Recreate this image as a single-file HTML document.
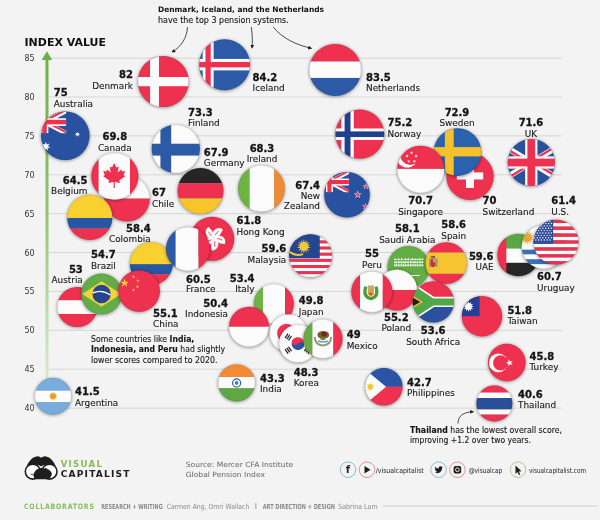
<!DOCTYPE html><html><head><meta charset="utf-8"><style>
html,body{margin:0;padding:0;}body{width:600px;height:520px;overflow:hidden;background:#f3f3f3;}
svg{display:block;will-change:transform;}
.n{font-family:"DejaVu Sans",sans-serif;font-weight:bold;font-size:10.00px;fill:#141414;stroke:#141414;stroke-width:0.3px;}
.l{font-family:"DejaVu Sans",sans-serif;font-size:8.90px;fill:#181818;stroke:#181818;stroke-width:0.12px;}
.ax{font-family:"DejaVu Sans",sans-serif;font-size:8px;fill:#333;}
.t{font-family:"DejaVu Sans",sans-serif;font-size:8.3px;fill:#161616;stroke:#161616;stroke-width:0.12px;}
</style></head><body>
<svg width="600" height="520" viewBox="0 0 600 520">
<defs><filter id="sh" x="-30%" y="-30%" width="160%" height="160%"><feGaussianBlur stdDeviation="1.4"/></filter>
<marker id="ah" viewBox="0 0 6 6" refX="5" refY="3" markerWidth="5" markerHeight="5" orient="auto-start-reverse"><path d="M0,0 L6,3 L0,6 Z" fill="#222"/></marker>
<clipPath id="cdk"><circle r="25.5"/></clipPath>
<clipPath id="cis"><circle r="25.5"/></clipPath>
<clipPath id="cnl"><circle r="26"/></clipPath>
<clipPath id="cau"><circle r="24.3"/></clipPath>
<clipPath id="cfi"><circle r="24.2"/></clipPath>
<clipPath id="cno"><circle r="24.5"/></clipPath>
<clipPath id="cch"><circle r="23.6"/></clipPath>
<clipPath id="cse"><circle r="23.8"/></clipPath>
<clipPath id="csg"><circle r="23.6"/></clipPath>
<clipPath id="cuk"><circle r="23.6"/></clipPath>
<clipPath id="ccl"><circle r="22.8"/></clipPath>
<clipPath id="cco1"><circle r="22.6"/></clipPath>
<clipPath id="cca"><circle r="23.5"/></clipPath>
<clipPath id="cde"><circle r="23"/></clipPath>
<clipPath id="cie"><circle r="23.3"/></clipPath>
<clipPath id="cnz"><circle r="22.8"/></clipPath>
<clipPath id="chk"><circle r="22"/></clipPath>
<clipPath id="cco2"><circle r="21.5"/></clipPath>
<clipPath id="cfr"><circle r="22"/></clipPath>
<clipPath id="cmy"><circle r="21.5"/></clipPath>
<clipPath id="cae"><circle r="21.2"/></clipPath>
<clipPath id="cuy"><circle r="22"/></clipPath>
<clipPath id="cus"><circle r="22.5"/></clipPath>
<clipPath id="csa"><circle r="21"/></clipPath>
<clipPath id="ces"><circle r="20.8"/></clipPath>
<clipPath id="cpl"><circle r="20.5"/></clipPath>
<clipPath id="cpe"><circle r="20.6"/></clipPath>
<clipPath id="cza"><circle r="20.6"/></clipPath>
<clipPath id="cat"><circle r="20"/></clipPath>
<clipPath id="cbr"><circle r="20.4"/></clipPath>
<clipPath id="ccn"><circle r="20.8"/></clipPath>
<clipPath id="cit"><circle r="20"/></clipPath>
<clipPath id="cid"><circle r="20"/></clipPath>
<clipPath id="cjp"><circle r="19"/></clipPath>
<clipPath id="ckr"><circle r="19"/></clipPath>
<clipPath id="cmx"><circle r="19.6"/></clipPath>
<clipPath id="ctw"><circle r="20.2"/></clipPath>
<clipPath id="ctr"><circle r="18.8"/></clipPath>
<clipPath id="cin"><circle r="18.5"/></clipPath>
<clipPath id="cph"><circle r="18.8"/></clipPath>
<clipPath id="cth"><circle r="18"/></clipPath>
<clipPath id="car"><circle r="18.3"/></clipPath>
</defs>
<line x1="48" y1="58.1" x2="562" y2="58.1" stroke="#d6d6d4" stroke-width="1"/>
<text class="ax" x="24.5" y="61.1">85</text>
<line x1="48" y1="96.99" x2="562" y2="96.99" stroke="#d6d6d4" stroke-width="1"/>
<text class="ax" x="24.5" y="99.99">80</text>
<line x1="48" y1="135.88" x2="562" y2="135.88" stroke="#d6d6d4" stroke-width="1"/>
<text class="ax" x="24.5" y="138.88">75</text>
<line x1="48" y1="174.77" x2="562" y2="174.77" stroke="#d6d6d4" stroke-width="1"/>
<text class="ax" x="24.5" y="177.77">70</text>
<line x1="48" y1="213.66" x2="562" y2="213.66" stroke="#d6d6d4" stroke-width="1"/>
<text class="ax" x="24.5" y="216.66">65</text>
<line x1="48" y1="252.55" x2="562" y2="252.55" stroke="#d6d6d4" stroke-width="1"/>
<text class="ax" x="24.5" y="255.55">60</text>
<line x1="48" y1="291.44" x2="562" y2="291.44" stroke="#d6d6d4" stroke-width="1"/>
<text class="ax" x="24.5" y="294.44">55</text>
<line x1="48" y1="330.33" x2="562" y2="330.33" stroke="#d6d6d4" stroke-width="1"/>
<text class="ax" x="24.5" y="333.33">50</text>
<line x1="48" y1="369.22" x2="562" y2="369.22" stroke="#d6d6d4" stroke-width="1"/>
<text class="ax" x="24.5" y="372.22">45</text>
<line x1="48" y1="408.11" x2="562" y2="408.11" stroke="#d6d6d4" stroke-width="1"/>
<text class="ax" x="24.5" y="411.11">40</text>
<linearGradient id="axg" x1="0" y1="0" x2="0" y2="1"><stop offset="0" stop-color="#6cb043"/><stop offset="0.45" stop-color="#8fc46e"/><stop offset="1" stop-color="#dfecd5"/></linearGradient>
<rect x="45.5" y="58" width="3" height="334" fill="url(#axg)"/>
<polygon points="46.9,51.2 52.2,59.9 41.6,59.9" fill="#6cb043"/>
<text x="24.5" y="45.6" textLength="81.5" lengthAdjust="spacingAndGlyphs" style="font-family:'DejaVu Sans',sans-serif;font-weight:bold;font-size:9.6px;fill:#111">INDEX VALUE</text>
<text x="158" y="12" textLength="166" lengthAdjust="spacingAndGlyphs" style="font-family:'DejaVu Sans',sans-serif;font-weight:bold;font-size:7.6px;fill:#111">Denmark, Iceland, and the Netherlands</text>
<text x="158" y="22.5" class="t" textLength="130.7" lengthAdjust="spacingAndGlyphs">have the top 3 pension systems.</text>
<path d="M187.5,27 C187,38 181,47 172,52" stroke="#222" stroke-width="0.8" fill="none" marker-end="url(#ah)"/>
<path d="M251.3,27 C252.5,35 252.5,42 252,48" stroke="#222" stroke-width="0.8" fill="none" marker-end="url(#ah)"/>
<path d="M273.3,27 C282,38 296,45 311.5,48.3" stroke="#222" stroke-width="0.8" fill="none" marker-end="url(#ah)"/>
<g transform="translate(163.3,81.6)">
<circle cx="0" cy="0.6" r="26" fill="rgba(0,0,0,0.36)" filter="url(#sh)"/>
<g clip-path="url(#cdk)"><rect x="-30.6" y="-30.6" width="61.2" height="61.2" fill="#ef3150"/><rect x="-13.26" y="-30.6" width="8.92" height="61.2" fill="#fbfbfb"/><rect x="-30.6" y="-4.59" width="61.2" height="9.18" fill="#fbfbfb"/></g>
<circle r="25.2" fill="none" stroke="rgba(0,0,0,0.12)" stroke-width="0.6"/>
</g>
<g transform="translate(224.6,64.8)">
<circle cx="0" cy="0.6" r="26" fill="rgba(0,0,0,0.36)" filter="url(#sh)"/>
<g clip-path="url(#cis)"><rect x="-30.6" y="-30.6" width="61.2" height="61.2" fill="#2c5aa6"/><rect x="-21.93" y="-30.6" width="10.96" height="61.2" fill="#fbfbfb"/><rect x="-30.6" y="-5.87" width="61.2" height="11.47" fill="#fbfbfb"/><rect x="-19.12" y="-30.6" width="5.23" height="61.2" fill="#ef3150"/><rect x="-30.6" y="-2.81" width="61.2" height="5.36" fill="#ef3150"/></g>
<circle r="25.2" fill="none" stroke="rgba(0,0,0,0.12)" stroke-width="0.6"/>
</g>
<g transform="translate(335.2,69.9)">
<circle cx="0" cy="0.6" r="26.5" fill="rgba(0,0,0,0.36)" filter="url(#sh)"/>
<g clip-path="url(#cnl)"><rect x="-31.2" y="-31.2" width="62.4" height="22.88" fill="#ef3150"/><rect x="-31.2" y="-8.32" width="62.4" height="16.38" fill="#fbfbfb"/><rect x="-31.2" y="8.06" width="62.4" height="23.14" fill="#2c5aa6"/></g>
<circle r="25.7" fill="none" stroke="rgba(0,0,0,0.12)" stroke-width="0.6"/>
</g>
<g transform="translate(65.3,135.8)">
<circle cx="0" cy="0.6" r="24.8" fill="rgba(0,0,0,0.36)" filter="url(#sh)"/>
<g clip-path="url(#cau)"><rect x="-29.16" y="-29.16" width="58.32" height="58.32" fill="#28519f"/><rect x="-42.52" y="-25.03" width="43.5" height="22.6" fill="#28519f"/><clipPath id="uj-4252_-2502_434"><rect x="-42.52" y="-25.03" width="43.5" height="22.6"/></clipPath><g clip-path="url(#uj-4252_-2502_434)"><line x1="-42.52" y1="-25.03" x2="0.97" y2="-2.43" stroke="#fbfbfb" stroke-width="4.52"/><line x1="-42.52" y1="-2.43" x2="0.97" y2="-25.03" stroke="#fbfbfb" stroke-width="4.52"/><line x1="-42.52" y1="-24.01" x2="-20.78" y2="-12.71" stroke="#ef3150" stroke-width="2.03"/><line x1="-20.78" y1="-14.75" x2="0.97" y2="-3.45" stroke="#ef3150" stroke-width="2.03"/><line x1="-42.52" y1="-1.41" x2="-20.78" y2="-12.71" stroke="#ef3150" stroke-width="2.03"/><line x1="-20.78" y1="-14.75" x2="0.97" y2="-26.05" stroke="#ef3150" stroke-width="2.03"/><rect x="-24.62" y="-25.03" width="7.68" height="22.6" fill="#fbfbfb"/><rect x="-42.52" y="-17.57" width="43.5" height="7.68" fill="#fbfbfb"/><rect x="-23.04" y="-25.03" width="4.52" height="22.6" fill="#ef3150"/><rect x="-42.52" y="-15.99" width="43.5" height="4.52" fill="#ef3150"/></g><polygon points="-19.44,5.83 -18.49,8.72 -15.64,7.66 -17.31,10.21 -14.7,11.77 -17.73,12.06 -17.33,15.07 -19.44,12.88 -21.55,15.07 -21.15,12.06 -24.18,11.77 -21.57,10.21 -23.24,7.66 -20.39,8.72" fill="#fbfbfb"/><polygon points="12.15,-4.13 12.67,-2.54 14.24,-3.12 13.32,-1.73 14.76,-0.86 13.09,-0.71 13.31,0.95 12.15,-0.26 10.99,0.95 11.21,-0.71 9.54,-0.86 10.98,-1.73 10.06,-3.12 11.63,-2.54" fill="#fbfbfb"/></g>
<circle r="24" fill="none" stroke="rgba(0,0,0,0.12)" stroke-width="0.6"/>
</g>
<g transform="translate(175.8,148.8)">
<circle cx="0" cy="0.6" r="24.7" fill="rgba(0,0,0,0.36)" filter="url(#sh)"/>
<g clip-path="url(#cfi)"><rect x="-29.04" y="-29.04" width="58.08" height="58.08" fill="#fbfbfb"/><rect x="-15.37" y="-29.04" width="10.77" height="58.08" fill="#2c5aa6"/><rect x="-29.04" y="-5.08" width="58.08" height="11.86" fill="#2c5aa6"/></g>
<circle r="23.9" fill="none" stroke="rgba(0,0,0,0.12)" stroke-width="0.6"/>
</g>
<g transform="translate(359.8,134.1)">
<circle cx="0" cy="0.6" r="25" fill="rgba(0,0,0,0.36)" filter="url(#sh)"/>
<g clip-path="url(#cno)"><rect x="-29.4" y="-29.4" width="58.8" height="58.8" fill="#ef3150"/><rect x="-18.5" y="-29.4" width="12.5" height="58.8" fill="#fbfbfb"/><rect x="-29.4" y="-5.64" width="58.8" height="11.51" fill="#fbfbfb"/><rect x="-15.19" y="-29.4" width="5.88" height="58.8" fill="#203f8c"/><rect x="-29.4" y="-2.69" width="58.8" height="5.63" fill="#203f8c"/></g>
<circle r="24.2" fill="none" stroke="rgba(0,0,0,0.12)" stroke-width="0.6"/>
</g>
<g transform="translate(470,176.4)">
<circle cx="0" cy="0.6" r="24.1" fill="rgba(0,0,0,0.36)" filter="url(#sh)"/>
<g clip-path="url(#cch)"><rect x="-28.32" y="-28.32" width="56.64" height="56.64" fill="#ef3150"/><rect x="-13.22" y="-4.01" width="26.43" height="7.08" fill="#fbfbfb"/><rect x="-4.01" y="-11.56" width="8.02" height="23.13" fill="#fbfbfb"/></g>
<circle r="23.3" fill="none" stroke="rgba(0,0,0,0.12)" stroke-width="0.6"/>
</g>
<g transform="translate(457.5,152.1)">
<circle cx="0" cy="0.6" r="24.3" fill="rgba(0,0,0,0.36)" filter="url(#sh)"/>
<g clip-path="url(#cse)"><rect x="-28.56" y="-28.56" width="57.12" height="57.12" fill="#2a62ad"/><rect x="-12.61" y="-28.56" width="8.81" height="57.12" fill="#f5c22c"/><rect x="-28.56" y="-5" width="57.12" height="9.28" fill="#f5c22c"/></g>
<circle r="23.5" fill="none" stroke="rgba(0,0,0,0.12)" stroke-width="0.6"/>
</g>
<g transform="translate(420.8,169.4)">
<circle cx="0" cy="0.6" r="24.1" fill="rgba(0,0,0,0.36)" filter="url(#sh)"/>
<g clip-path="url(#csg)"><rect x="-28.32" y="-28.32" width="56.64" height="27.85" fill="#ef3150"/><rect x="-28.32" y="-0.47" width="56.64" height="28.79" fill="#fbfbfb"/><circle cx="-13.69" cy="-12.51" r="10.62" fill="#fbfbfb" /><circle cx="-10.38" cy="-14.63" r="10.15" fill="#ef3150" /><polygon points="-9.2,-18.29 -8.81,-17.07 -7.52,-17.07 -8.56,-16.31 -8.16,-15.09 -9.2,-15.84 -10.24,-15.09 -9.85,-16.31 -10.89,-17.07 -9.6,-17.07" fill="#fbfbfb"/><polygon points="-4.72,-15.03 -4.32,-13.81 -3.03,-13.81 -4.07,-13.05 -3.67,-11.83 -4.72,-12.58 -5.76,-11.83 -5.36,-13.05 -6.4,-13.81 -5.11,-13.81" fill="#fbfbfb"/><polygon points="-6.43,-9.75 -6.03,-8.53 -4.75,-8.53 -5.79,-7.77 -5.39,-6.55 -6.43,-7.31 -7.47,-6.55 -7.07,-7.77 -8.11,-8.53 -6.83,-8.53" fill="#fbfbfb"/><polygon points="-11.98,-9.75 -11.58,-8.53 -10.29,-8.53 -11.34,-7.77 -10.94,-6.55 -11.98,-7.31 -13.02,-6.55 -12.62,-7.77 -13.66,-8.53 -12.38,-8.53" fill="#fbfbfb"/><polygon points="-13.69,-15.03 -13.3,-13.81 -12.01,-13.81 -13.05,-13.05 -12.65,-11.83 -13.69,-12.58 -14.73,-11.83 -14.34,-13.05 -15.38,-13.81 -14.09,-13.81" fill="#fbfbfb"/></g>
<circle r="23.3" fill="none" stroke="rgba(0,0,0,0.12)" stroke-width="0.6"/>
</g>
<g transform="translate(531.3,162.5)">
<circle cx="0" cy="0.6" r="24.1" fill="rgba(0,0,0,0.36)" filter="url(#sh)"/>
<g clip-path="url(#cuk)"><rect x="-38.94" y="-23.6" width="77.88" height="47.2" fill="#28519f"/><clipPath id="uj-3894_-2360_778"><rect x="-38.94" y="-23.6" width="77.88" height="47.2"/></clipPath><g clip-path="url(#uj-3894_-2360_778)"><line x1="-38.94" y1="-23.6" x2="38.94" y2="23.6" stroke="#fbfbfb" stroke-width="5.66"/><line x1="-38.94" y1="23.6" x2="38.94" y2="-23.6" stroke="#fbfbfb" stroke-width="5.66"/><line x1="-38.94" y1="-22.42" x2="0" y2="1.18" stroke="#ef3150" stroke-width="2.36"/><line x1="0" y1="-1.18" x2="38.94" y2="22.42" stroke="#ef3150" stroke-width="2.36"/><line x1="-38.94" y1="24.78" x2="0" y2="1.18" stroke="#ef3150" stroke-width="2.36"/><line x1="0" y1="-1.18" x2="38.94" y2="-24.78" stroke="#ef3150" stroke-width="2.36"/><rect x="-6.14" y="-23.6" width="12.27" height="47.2" fill="#fbfbfb"/><rect x="-38.94" y="-6.14" width="77.88" height="12.27" fill="#fbfbfb"/><rect x="-3.89" y="-23.6" width="7.79" height="47.2" fill="#ef3150"/><rect x="-38.94" y="-3.89" width="77.88" height="7.79" fill="#ef3150"/></g></g>
<circle r="23.3" fill="none" stroke="rgba(0,0,0,0.12)" stroke-width="0.6"/>
</g>
<g transform="translate(127,198.6)">
<circle cx="0" cy="0.6" r="23.3" fill="rgba(0,0,0,0.36)" filter="url(#sh)"/>
<g clip-path="url(#ccl)"><rect x="-27.36" y="-27.36" width="54.72" height="27.36" fill="#fbfbfb"/><rect x="-27.36" y="0" width="54.72" height="27.36" fill="#ef3150"/></g>
<circle r="22.5" fill="none" stroke="rgba(0,0,0,0.12)" stroke-width="0.6"/>
</g>
<g transform="translate(89.8,217.3)">
<circle cx="0" cy="0.6" r="23.1" fill="rgba(0,0,0,0.36)" filter="url(#sh)"/>
<g clip-path="url(#cco1)"><rect x="-27.12" y="-27.12" width="54.24" height="27.8" fill="#f8d02f"/><rect x="-27.12" y="0.68" width="54.24" height="10.62" fill="#2557a3"/><rect x="-27.12" y="11.3" width="54.24" height="15.82" fill="#ef3150"/></g>
<circle r="22.3" fill="none" stroke="rgba(0,0,0,0.12)" stroke-width="0.6"/>
</g>
<g transform="translate(114.8,176.3)">
<circle cx="0" cy="0.6" r="24" fill="rgba(0,0,0,0.36)" filter="url(#sh)"/>
<g clip-path="url(#cca)"><rect x="-28.2" y="-28.2" width="12.1" height="56.4" fill="#ef3150"/><rect x="-16.1" y="-28.2" width="31.3" height="56.4" fill="#fbfbfb"/><rect x="15.2" y="-28.2" width="13" height="56.4" fill="#ef3150"/><polygon points="-0.6,-13.3 1.6,-8.8 3.9,-9.8 2.9,-3.8 6.4,-6.8 7.4,-4.8 10.4,-5.5 8.9,-1.3 10.4,-0.1 4.4,4.2 5.2,6.7 0,5.7 0,11.7 -1.2,11.7 -1.2,5.7 -6.4,6.7 -5.6,4.2 -11.6,-0.1 -10.1,-1.3 -11.6,-5.5 -8.6,-4.8 -7.6,-6.8 -4.1,-3.8 -5.1,-9.8 -2.8,-8.8" fill="#ef3150"/></g>
<circle r="23.2" fill="none" stroke="rgba(0,0,0,0.12)" stroke-width="0.6"/>
</g>
<g transform="translate(200.5,191)">
<circle cx="0" cy="0.6" r="23.5" fill="rgba(0,0,0,0.36)" filter="url(#sh)"/>
<g clip-path="url(#cde)"><rect x="-27.6" y="-27.6" width="55.2" height="19.89" fill="#262626"/><rect x="-27.6" y="-7.71" width="55.2" height="15.2" fill="#ef3150"/><rect x="-27.6" y="7.5" width="55.2" height="20.1" fill="#f6c52b"/></g>
<circle r="22.7" fill="none" stroke="rgba(0,0,0,0.12)" stroke-width="0.6"/>
</g>
<g transform="translate(261.4,188.5)">
<circle cx="0" cy="0.6" r="23.8" fill="rgba(0,0,0,0.36)" filter="url(#sh)"/>
<g clip-path="url(#cie)"><rect x="-27.96" y="-27.96" width="16.31" height="55.92" fill="#6db443"/><rect x="-11.65" y="-27.96" width="24.47" height="55.92" fill="#fbfbfb"/><rect x="12.82" y="-27.96" width="15.14" height="55.92" fill="#f08b33"/></g>
<circle r="23" fill="none" stroke="rgba(0,0,0,0.12)" stroke-width="0.6"/>
</g>
<g transform="translate(347,194.7)">
<circle cx="0" cy="0.6" r="23.3" fill="rgba(0,0,0,0.36)" filter="url(#sh)"/>
<g clip-path="url(#cnz)"><rect x="-27.36" y="-27.36" width="54.72" height="54.72" fill="#28519f"/><rect x="-37.05" y="-22.91" width="38.99" height="20.52" fill="#28519f"/><clipPath id="uj-3705_-2291_389"><rect x="-37.05" y="-22.91" width="38.99" height="20.52"/></clipPath><g clip-path="url(#uj-3705_-2291_389)"><line x1="-37.05" y1="-22.91" x2="1.94" y2="-2.39" stroke="#fbfbfb" stroke-width="4.1"/><line x1="-37.05" y1="-2.39" x2="1.94" y2="-22.91" stroke="#fbfbfb" stroke-width="4.1"/><line x1="-37.05" y1="-21.99" x2="-17.56" y2="-11.73" stroke="#ef3150" stroke-width="1.85"/><line x1="-17.56" y1="-13.58" x2="1.94" y2="-3.32" stroke="#ef3150" stroke-width="1.85"/><line x1="-37.05" y1="-1.47" x2="-17.56" y2="-11.73" stroke="#ef3150" stroke-width="1.85"/><line x1="-17.56" y1="-13.58" x2="1.94" y2="-23.84" stroke="#ef3150" stroke-width="1.85"/><rect x="-21.04" y="-22.91" width="6.98" height="20.52" fill="#fbfbfb"/><rect x="-37.05" y="-16.14" width="38.99" height="6.98" fill="#fbfbfb"/><rect x="-19.61" y="-22.91" width="4.1" height="20.52" fill="#ef3150"/><rect x="-37.05" y="-14.71" width="38.99" height="4.1" fill="#ef3150"/></g><polygon points="18.92,-11.72 19.71,-9.29 22.26,-9.29 20.2,-7.79 20.99,-5.37 18.92,-6.87 16.86,-5.37 17.65,-7.79 15.58,-9.29 18.14,-9.29" fill="#fbfbfb"/><polygon points="18.92,-10.72 19.49,-8.98 21.31,-8.98 19.84,-7.91 20.4,-6.18 18.92,-7.25 17.45,-6.18 18.01,-7.91 16.54,-8.98 18.36,-8.98" fill="#ef3150"/><polygon points="10.72,-4.15 11.65,-1.28 14.66,-1.28 12.22,0.49 13.16,3.36 10.72,1.59 8.28,3.36 9.21,0.49 6.77,-1.28 9.78,-1.28" fill="#fbfbfb"/><polygon points="10.72,-2.96 11.38,-0.92 13.53,-0.92 11.79,0.35 12.46,2.4 10.72,1.13 8.97,2.4 9.64,0.35 7.9,-0.92 10.05,-0.92" fill="#ef3150"/><polygon points="18.47,8.34 19.26,10.77 21.81,10.77 19.74,12.27 20.53,14.7 18.47,13.2 16.4,14.7 17.19,12.27 15.13,10.77 17.68,10.77" fill="#fbfbfb"/><polygon points="18.47,9.35 19.03,11.08 20.85,11.08 19.38,12.15 19.94,13.89 18.47,12.81 16.99,13.89 17.56,12.15 16.08,11.08 17.9,11.08" fill="#ef3150"/></g>
<circle r="22.5" fill="none" stroke="rgba(0,0,0,0.12)" stroke-width="0.6"/>
</g>
<g transform="translate(212.2,238.8)">
<circle cx="0" cy="0.6" r="22.5" fill="rgba(0,0,0,0.36)" filter="url(#sh)"/>
<g clip-path="url(#chk)"><rect x="-26.4" y="-26.4" width="52.8" height="52.8" fill="#ef3150"/><g transform="translate(1.76,-0.66)"><g transform="rotate(-108)"><path d="M0,0 C0,-7.48 10.12,-8.8 12.32,-1.76 C9.24,0 5.72,2.2 0,0 Z" fill="#fbfbfb"/><line x1="2.64" y1="-1.76" x2="7.92" y2="-3.3" stroke="#ef3150" stroke-width="0.77"/></g><g transform="rotate(-36)"><path d="M0,0 C0,-7.48 10.12,-8.8 12.32,-1.76 C9.24,0 5.72,2.2 0,0 Z" fill="#fbfbfb"/><line x1="2.64" y1="-1.76" x2="7.92" y2="-3.3" stroke="#ef3150" stroke-width="0.77"/></g><g transform="rotate(36)"><path d="M0,0 C0,-7.48 10.12,-8.8 12.32,-1.76 C9.24,0 5.72,2.2 0,0 Z" fill="#fbfbfb"/><line x1="2.64" y1="-1.76" x2="7.92" y2="-3.3" stroke="#ef3150" stroke-width="0.77"/></g><g transform="rotate(108)"><path d="M0,0 C0,-7.48 10.12,-8.8 12.32,-1.76 C9.24,0 5.72,2.2 0,0 Z" fill="#fbfbfb"/><line x1="2.64" y1="-1.76" x2="7.92" y2="-3.3" stroke="#ef3150" stroke-width="0.77"/></g><g transform="rotate(180)"><path d="M0,0 C0,-7.48 10.12,-8.8 12.32,-1.76 C9.24,0 5.72,2.2 0,0 Z" fill="#fbfbfb"/><line x1="2.64" y1="-1.76" x2="7.92" y2="-3.3" stroke="#ef3150" stroke-width="0.77"/></g></g></g>
<circle r="21.7" fill="none" stroke="rgba(0,0,0,0.12)" stroke-width="0.6"/>
</g>
<g transform="translate(151.3,263.6)">
<circle cx="0" cy="0.6" r="22" fill="rgba(0,0,0,0.36)" filter="url(#sh)"/>
<g clip-path="url(#cco2)"><rect x="-25.8" y="-25.8" width="51.6" height="26.45" fill="#f8d02f"/><rect x="-25.8" y="0.65" width="51.6" height="10.11" fill="#2557a3"/><rect x="-25.8" y="10.75" width="51.6" height="15.05" fill="#ef3150"/></g>
<circle r="21.2" fill="none" stroke="rgba(0,0,0,0.12)" stroke-width="0.6"/>
</g>
<g transform="translate(188,248.9)">
<circle cx="0" cy="0.6" r="22.5" fill="rgba(0,0,0,0.36)" filter="url(#sh)"/>
<g clip-path="url(#cfr)"><rect x="-26.4" y="-26.4" width="14.08" height="52.8" fill="#2c5aa6"/><rect x="-12.32" y="-26.4" width="22.88" height="52.8" fill="#fbfbfb"/><rect x="10.56" y="-26.4" width="15.84" height="52.8" fill="#ef3150"/></g>
<circle r="21.7" fill="none" stroke="rgba(0,0,0,0.12)" stroke-width="0.6"/>
</g>
<g transform="translate(310.5,255.8)">
<circle cx="0" cy="0.6" r="22" fill="rgba(0,0,0,0.36)" filter="url(#sh)"/>
<g clip-path="url(#cmy)"><rect x="-25.8" y="-21.5" width="51.6" height="3.12" fill="#ef3150"/><rect x="-25.8" y="-18.43" width="51.6" height="3.12" fill="#fbfbfb"/><rect x="-25.8" y="-15.36" width="51.6" height="3.12" fill="#ef3150"/><rect x="-25.8" y="-12.29" width="51.6" height="3.12" fill="#fbfbfb"/><rect x="-25.8" y="-9.21" width="51.6" height="3.12" fill="#ef3150"/><rect x="-25.8" y="-6.14" width="51.6" height="3.12" fill="#fbfbfb"/><rect x="-25.8" y="-3.07" width="51.6" height="3.12" fill="#ef3150"/><rect x="-25.8" y="0" width="51.6" height="3.12" fill="#fbfbfb"/><rect x="-25.8" y="3.07" width="51.6" height="3.12" fill="#ef3150"/><rect x="-25.8" y="6.14" width="51.6" height="3.12" fill="#fbfbfb"/><rect x="-25.8" y="9.21" width="51.6" height="3.12" fill="#ef3150"/><rect x="-25.8" y="12.29" width="51.6" height="3.12" fill="#fbfbfb"/><rect x="-25.8" y="15.36" width="51.6" height="3.12" fill="#ef3150"/><rect x="-25.8" y="18.43" width="51.6" height="3.12" fill="#fbfbfb"/><rect x="-25.8" y="-25.8" width="35.04" height="28.38" fill="#22468f"/><path d="M-22.57,-5.38 Q-16.12,1.07 -7.52,-1.72" stroke="#f6c63a" stroke-width="1.93" fill="none"/><polygon points="-6.67,-16.55 -5.8,-13.26 -3.59,-15.85 -4.23,-12.51 -1.12,-13.88 -3.15,-11.15 0.25,-11.04 -2.76,-9.46 0.25,-7.88 -3.15,-7.77 -1.12,-5.04 -4.23,-6.41 -3.59,-3.07 -5.8,-5.66 -6.67,-2.37 -7.53,-5.66 -9.74,-3.07 -9.1,-6.41 -12.21,-5.04 -10.18,-7.77 -13.58,-7.88 -10.57,-9.46 -13.58,-11.04 -10.18,-11.15 -12.21,-13.88 -9.1,-12.51 -9.74,-15.85 -7.53,-13.26" fill="#f6c63a"/><circle cx="-6.67" cy="-9.46" r="3.66" fill="#f6c63a" /></g>
<circle r="21.2" fill="none" stroke="rgba(0,0,0,0.12)" stroke-width="0.6"/>
</g>
<g transform="translate(518.4,255)">
<circle cx="0" cy="0.6" r="21.7" fill="rgba(0,0,0,0.36)" filter="url(#sh)"/>
<g clip-path="url(#cae)"><rect x="-25.44" y="-25.44" width="50.88" height="19.08" fill="#5aa845"/><rect x="-25.44" y="-6.36" width="50.88" height="14.2" fill="#fbfbfb"/><rect x="-25.44" y="7.84" width="50.88" height="17.6" fill="#262626"/><rect x="-25.44" y="-25.44" width="13.36" height="50.88" fill="#ef3150"/></g>
<circle r="20.9" fill="none" stroke="rgba(0,0,0,0.12)" stroke-width="0.6"/>
</g>
<g transform="translate(543.7,247)">
<circle cx="0" cy="0.6" r="22.5" fill="rgba(0,0,0,0.36)" filter="url(#sh)"/>
<g clip-path="url(#cuy)"><rect x="-26.4" y="-26.4" width="52.8" height="52.8" fill="#fbfbfb"/><rect x="-26.4" y="-17.11" width="52.8" height="4.89" fill="#3a6fb8"/><rect x="-26.4" y="-7.33" width="52.8" height="4.89" fill="#3a6fb8"/><rect x="-26.4" y="2.44" width="52.8" height="4.89" fill="#3a6fb8"/><rect x="-26.4" y="12.22" width="52.8" height="4.89" fill="#3a6fb8"/><rect x="-26.4" y="-26.4" width="24.2" height="28.84" fill="#fbfbfb"/><polygon points="-16.5,-16.94 -15.7,-13.49 -13.64,-16.37 -14.21,-12.88 -11.21,-14.75 -13.08,-11.75 -9.59,-12.32 -12.47,-10.26 -9.02,-9.46 -12.47,-8.66 -9.59,-6.6 -13.08,-7.17 -11.21,-4.17 -14.21,-6.04 -13.64,-2.55 -15.7,-5.43 -16.5,-1.98 -17.3,-5.43 -19.36,-2.55 -18.79,-6.04 -21.79,-4.17 -19.92,-7.17 -23.41,-6.6 -20.53,-8.66 -23.98,-9.46 -20.53,-10.26 -23.41,-12.32 -19.92,-11.75 -21.79,-14.75 -18.79,-12.88 -19.36,-16.37 -17.3,-13.49" fill="#f0b040"/><circle cx="-16.5" cy="-9.46" r="3.74" fill="#eba535" /></g>
<circle r="21.7" fill="none" stroke="rgba(0,0,0,0.12)" stroke-width="0.6"/>
</g>
<g transform="translate(556,242.1)">
<circle cx="0" cy="0.6" r="23" fill="rgba(0,0,0,0.36)" filter="url(#sh)"/>
<g clip-path="url(#cus)"><rect x="-27" y="-22.5" width="54" height="3.51" fill="#ef3150"/><rect x="-27" y="-19.04" width="54" height="3.51" fill="#fbfbfb"/><rect x="-27" y="-15.58" width="54" height="3.51" fill="#ef3150"/><rect x="-27" y="-12.12" width="54" height="3.51" fill="#fbfbfb"/><rect x="-27" y="-8.65" width="54" height="3.51" fill="#ef3150"/><rect x="-27" y="-5.19" width="54" height="3.51" fill="#fbfbfb"/><rect x="-27" y="-1.73" width="54" height="3.51" fill="#ef3150"/><rect x="-27" y="1.73" width="54" height="3.51" fill="#fbfbfb"/><rect x="-27" y="5.19" width="54" height="3.51" fill="#ef3150"/><rect x="-27" y="8.65" width="54" height="3.51" fill="#fbfbfb"/><rect x="-27" y="12.12" width="54" height="3.51" fill="#ef3150"/><rect x="-27" y="15.58" width="54" height="3.51" fill="#fbfbfb"/><rect x="-27" y="19.04" width="54" height="3.51" fill="#ef3150"/><rect x="-27" y="-27" width="24.19" height="28.73" fill="#2c4e9c"/><circle cx="-22.95" cy="-20.93" r="0.72" fill="#fbfbfb" /><circle cx="-20.14" cy="-20.93" r="0.72" fill="#fbfbfb" /><circle cx="-17.32" cy="-20.93" r="0.72" fill="#fbfbfb" /><circle cx="-14.51" cy="-20.93" r="0.72" fill="#fbfbfb" /><circle cx="-11.7" cy="-20.93" r="0.72" fill="#fbfbfb" /><circle cx="-8.89" cy="-20.93" r="0.72" fill="#fbfbfb" /><circle cx="-6.07" cy="-20.93" r="0.72" fill="#fbfbfb" /><circle cx="-21.54" cy="-18.56" r="0.72" fill="#fbfbfb" /><circle cx="-18.73" cy="-18.56" r="0.72" fill="#fbfbfb" /><circle cx="-15.92" cy="-18.56" r="0.72" fill="#fbfbfb" /><circle cx="-13.11" cy="-18.56" r="0.72" fill="#fbfbfb" /><circle cx="-10.29" cy="-18.56" r="0.72" fill="#fbfbfb" /><circle cx="-7.48" cy="-18.56" r="0.72" fill="#fbfbfb" /><circle cx="-4.67" cy="-18.56" r="0.72" fill="#fbfbfb" /><circle cx="-22.95" cy="-16.2" r="0.72" fill="#fbfbfb" /><circle cx="-20.14" cy="-16.2" r="0.72" fill="#fbfbfb" /><circle cx="-17.32" cy="-16.2" r="0.72" fill="#fbfbfb" /><circle cx="-14.51" cy="-16.2" r="0.72" fill="#fbfbfb" /><circle cx="-11.7" cy="-16.2" r="0.72" fill="#fbfbfb" /><circle cx="-8.89" cy="-16.2" r="0.72" fill="#fbfbfb" /><circle cx="-6.07" cy="-16.2" r="0.72" fill="#fbfbfb" /><circle cx="-21.54" cy="-13.84" r="0.72" fill="#fbfbfb" /><circle cx="-18.73" cy="-13.84" r="0.72" fill="#fbfbfb" /><circle cx="-15.92" cy="-13.84" r="0.72" fill="#fbfbfb" /><circle cx="-13.11" cy="-13.84" r="0.72" fill="#fbfbfb" /><circle cx="-10.29" cy="-13.84" r="0.72" fill="#fbfbfb" /><circle cx="-7.48" cy="-13.84" r="0.72" fill="#fbfbfb" /><circle cx="-4.67" cy="-13.84" r="0.72" fill="#fbfbfb" /><circle cx="-22.95" cy="-11.48" r="0.72" fill="#fbfbfb" /><circle cx="-20.14" cy="-11.48" r="0.72" fill="#fbfbfb" /><circle cx="-17.32" cy="-11.48" r="0.72" fill="#fbfbfb" /><circle cx="-14.51" cy="-11.48" r="0.72" fill="#fbfbfb" /><circle cx="-11.7" cy="-11.48" r="0.72" fill="#fbfbfb" /><circle cx="-8.89" cy="-11.48" r="0.72" fill="#fbfbfb" /><circle cx="-6.07" cy="-11.48" r="0.72" fill="#fbfbfb" /><circle cx="-21.54" cy="-9.11" r="0.72" fill="#fbfbfb" /><circle cx="-18.73" cy="-9.11" r="0.72" fill="#fbfbfb" /><circle cx="-15.92" cy="-9.11" r="0.72" fill="#fbfbfb" /><circle cx="-13.11" cy="-9.11" r="0.72" fill="#fbfbfb" /><circle cx="-10.29" cy="-9.11" r="0.72" fill="#fbfbfb" /><circle cx="-7.48" cy="-9.11" r="0.72" fill="#fbfbfb" /><circle cx="-4.67" cy="-9.11" r="0.72" fill="#fbfbfb" /><circle cx="-22.95" cy="-6.75" r="0.72" fill="#fbfbfb" /><circle cx="-20.14" cy="-6.75" r="0.72" fill="#fbfbfb" /><circle cx="-17.32" cy="-6.75" r="0.72" fill="#fbfbfb" /><circle cx="-14.51" cy="-6.75" r="0.72" fill="#fbfbfb" /><circle cx="-11.7" cy="-6.75" r="0.72" fill="#fbfbfb" /><circle cx="-8.89" cy="-6.75" r="0.72" fill="#fbfbfb" /><circle cx="-6.07" cy="-6.75" r="0.72" fill="#fbfbfb" /><circle cx="-21.54" cy="-4.39" r="0.72" fill="#fbfbfb" /><circle cx="-18.73" cy="-4.39" r="0.72" fill="#fbfbfb" /><circle cx="-15.92" cy="-4.39" r="0.72" fill="#fbfbfb" /><circle cx="-13.11" cy="-4.39" r="0.72" fill="#fbfbfb" /><circle cx="-10.29" cy="-4.39" r="0.72" fill="#fbfbfb" /><circle cx="-7.48" cy="-4.39" r="0.72" fill="#fbfbfb" /><circle cx="-4.67" cy="-4.39" r="0.72" fill="#fbfbfb" /><circle cx="-22.95" cy="-2.03" r="0.72" fill="#fbfbfb" /><circle cx="-20.14" cy="-2.03" r="0.72" fill="#fbfbfb" /><circle cx="-17.32" cy="-2.03" r="0.72" fill="#fbfbfb" /><circle cx="-14.51" cy="-2.03" r="0.72" fill="#fbfbfb" /><circle cx="-11.7" cy="-2.03" r="0.72" fill="#fbfbfb" /><circle cx="-8.89" cy="-2.03" r="0.72" fill="#fbfbfb" /><circle cx="-6.07" cy="-2.03" r="0.72" fill="#fbfbfb" /></g>
<circle r="22.2" fill="none" stroke="rgba(0,0,0,0.12)" stroke-width="0.6"/>
</g>
<g transform="translate(408.5,267)">
<circle cx="0" cy="0.6" r="21.5" fill="rgba(0,0,0,0.36)" filter="url(#sh)"/>
<g clip-path="url(#csa)"><rect x="-25.2" y="-25.2" width="50.4" height="50.4" fill="#62ad45"/><path d="M-13.6,-0.8 L-13.6,-8.8 M-12,-0.8 L-12,-6.8 M-10.2,-0.8 L-10.2,-9.3 M-8.5,-0.8 L-8.5,-7.8 M-6.8,-0.8 L-6.8,-9.3 M-5,-0.8 L-5,-6.3 M-3.3,-0.8 L-3.3,-8.8 M-1.6,-0.8 L-1.6,-8.3 M0.2,-0.8 L0.2,-9.3 M2,-0.8 L2,-6.8 M3.7,-0.8 L3.7,-9.3 M5.5,-0.8 L5.5,-7.8 M7.2,-0.8 L7.2,-8.8 M9,-0.8 L9,-7.3 M10.7,-0.8 L10.7,-9.3 M12.5,-0.8 L12.5,-8.3 M14.2,-0.8 L14.2,-8.8 M-14,-1.3 L14.5,-1.3 M-14,-4.3 L14.5,-4.3 M-14,-7.4 L14.5,-7.4" stroke="#fbfbfb" stroke-width="1" fill="none" stroke-dasharray="2.2 0.9" opacity="0.9"/><path d="M-11,8.5 L11,8.5" stroke="#fbfbfb" stroke-width="1.2"/></g>
<circle r="20.7" fill="none" stroke="rgba(0,0,0,0.12)" stroke-width="0.6"/>
</g>
<g transform="translate(446.3,263)">
<circle cx="0" cy="0.6" r="21.3" fill="rgba(0,0,0,0.36)" filter="url(#sh)"/>
<g clip-path="url(#ces)"><rect x="-24.96" y="-24.96" width="49.92" height="14.56" fill="#ef3150"/><rect x="-24.96" y="-10.4" width="49.92" height="21.22" fill="#f6c431"/><rect x="-24.96" y="10.82" width="49.92" height="14.14" fill="#ef3150"/><rect x="-17.06" y="-4.58" width="1.66" height="8.74" fill="#9b8f86"/><rect x="-10.4" y="-4.58" width="1.66" height="8.74" fill="#9b8f86"/><path d="M-15.6,-3.74 L-10.82,-3.74 L-10.82,2.5 Q-13.21,6.24 -15.6,2.5 Z" fill="#b33a34"/><rect x="-13.31" y="-3.74" width="2.5" height="3.12" fill="#d8a13a"/><rect x="-15.39" y="-7.07" width="4.16" height="2.5" fill="#8a5a6a"/></g>
<circle r="20.5" fill="none" stroke="rgba(0,0,0,0.12)" stroke-width="0.6"/>
</g>
<g transform="translate(396.8,290)">
<circle cx="0" cy="0.6" r="21" fill="rgba(0,0,0,0.36)" filter="url(#sh)"/>
<g clip-path="url(#cpl)"><rect x="-24.6" y="-24.6" width="49.2" height="24.6" fill="#fbfbfb"/><rect x="-24.6" y="0" width="49.2" height="24.6" fill="#ef3150"/></g>
<circle r="20.2" fill="none" stroke="rgba(0,0,0,0.12)" stroke-width="0.6"/>
</g>
<g transform="translate(371.9,291.8)">
<circle cx="0" cy="0.6" r="21.1" fill="rgba(0,0,0,0.36)" filter="url(#sh)"/>
<g clip-path="url(#cpe)"><rect x="-24.72" y="-24.72" width="12.88" height="49.44" fill="#ef3150"/><rect x="-11.85" y="-24.72" width="22.76" height="49.44" fill="#fbfbfb"/><rect x="10.92" y="-24.72" width="13.8" height="49.44" fill="#ef3150"/><path d="M-6.18,-5.15 Q-9.27,5.15 -1.03,6.8 Q7.21,5.15 4.12,-5.15" fill="none" stroke="#4f9a3c" stroke-width="3.3"/><path d="M-4.12,-6.18 L2.06,-6.18 L2.06,2.47 Q-1.03,6.59 -4.12,2.47 Z" fill="#e0a33c"/><rect x="-3.5" y="-5.56" width="2.47" height="2.88" fill="#8fb6d8"/><rect x="-2.47" y="0.82" width="2.88" height="2.47" fill="#d84a3a"/></g>
<circle r="20.3" fill="none" stroke="rgba(0,0,0,0.12)" stroke-width="0.6"/>
</g>
<g transform="translate(433.4,301.9)">
<circle cx="0" cy="0.6" r="21.1" fill="rgba(0,0,0,0.36)" filter="url(#sh)"/>
<g clip-path="url(#cza)"><rect x="-24.72" y="-24.72" width="49.44" height="24.72" fill="#ef3150"/><rect x="-24.72" y="0" width="49.44" height="24.72" fill="#2b50a0"/><path d="M-32.96,-21.01 L-1.03,0 L-32.96,21.01 M-1.03,0 L26.78,0" stroke="#fbfbfb" stroke-width="10.3" fill="none" stroke-linejoin="miter"/><path d="M-32.96,-21.01 L-1.03,0 L-32.96,21.01 M-1.03,0 L26.78,0" stroke="#52a847" stroke-width="7" fill="none" stroke-linejoin="miter"/><polygon points="-32.96,-21.01 -1.03,0 -32.96,21.01" fill="#52a847"/><polygon points="-30.9,-12.77 -10.3,0 -30.9,12.77" fill="#f2b830"/><polygon points="-30.9,-10.3 -13.18,0 -30.9,10.3" fill="#1f1f1f"/></g>
<circle r="20.3" fill="none" stroke="rgba(0,0,0,0.12)" stroke-width="0.6"/>
</g>
<g transform="translate(77.3,307)">
<circle cx="0" cy="0.6" r="20.5" fill="rgba(0,0,0,0.36)" filter="url(#sh)"/>
<g clip-path="url(#cat)"><rect x="-24" y="-24" width="48" height="17.3" fill="#ef3150"/><rect x="-24" y="-6.7" width="48" height="13.7" fill="#fbfbfb"/><rect x="-24" y="7" width="48" height="17" fill="#ef3150"/></g>
<circle r="19.7" fill="none" stroke="rgba(0,0,0,0.12)" stroke-width="0.6"/>
</g>
<g transform="translate(101.6,294)">
<circle cx="0" cy="0.6" r="20.9" fill="rgba(0,0,0,0.36)" filter="url(#sh)"/>
<g clip-path="url(#cbr)"><rect x="-24.48" y="-24.48" width="48.96" height="48.96" fill="#62ad47"/><polygon points="-19.38,0 0,-12.65 19.38,0 0,12.65" fill="#f4d23a"/><circle cx="0" cy="0" r="9.18" fill="#27458f" /><path d="M-8.98,-1.02 Q0,-5.1 8.98,1.02" stroke="#fbfbfb" stroke-width="1.43" fill="none"/></g>
<circle r="20.1" fill="none" stroke="rgba(0,0,0,0.12)" stroke-width="0.6"/>
</g>
<g transform="translate(139.1,291)">
<circle cx="0" cy="0.6" r="21.3" fill="rgba(0,0,0,0.36)" filter="url(#sh)"/>
<g clip-path="url(#ccn)"><rect x="-24.96" y="-24.96" width="49.92" height="49.92" fill="#ef3150"/><polygon points="-14.56,-12.48 -13.53,-9.32 -10.21,-9.32 -12.9,-7.36 -11.87,-4.2 -14.56,-6.16 -17.25,-4.2 -16.22,-7.36 -18.91,-9.32 -15.59,-9.32" fill="#f7d23a"/><polygon points="-5.62,-15.91 -5.22,-14.69 -3.93,-14.69 -4.97,-13.94 -4.58,-12.71 -5.62,-13.47 -6.66,-12.71 -6.26,-13.94 -7.3,-14.69 -6.01,-14.69" fill="#f7d23a"/><polygon points="-1.25,-12.17 -0.85,-10.95 0.43,-10.95 -0.61,-10.19 -0.21,-8.97 -1.25,-9.72 -2.29,-8.97 -1.89,-10.19 -2.93,-10.95 -1.64,-10.95" fill="#f7d23a"/><polygon points="-1.66,-5.93 -1.27,-4.71 0.02,-4.71 -1.02,-3.95 -0.62,-2.73 -1.66,-3.48 -2.7,-2.73 -2.31,-3.95 -3.35,-4.71 -2.06,-4.71" fill="#f7d23a"/><polygon points="-5.62,-2.81 -5.22,-1.59 -3.93,-1.59 -4.97,-0.83 -4.58,0.39 -5.62,-0.36 -6.66,0.39 -6.26,-0.83 -7.3,-1.59 -6.01,-1.59" fill="#f7d23a"/></g>
<circle r="20.5" fill="none" stroke="rgba(0,0,0,0.12)" stroke-width="0.6"/>
</g>
<g transform="translate(273.8,303.8)">
<circle cx="0" cy="0.6" r="20.5" fill="rgba(0,0,0,0.36)" filter="url(#sh)"/>
<g clip-path="url(#cit)"><rect x="-24" y="-24" width="13.2" height="48" fill="#6db443"/><rect x="-10.8" y="-24" width="22" height="48" fill="#fbfbfb"/><rect x="11.2" y="-24" width="12.8" height="48" fill="#ef3150"/></g>
<circle r="19.7" fill="none" stroke="rgba(0,0,0,0.12)" stroke-width="0.6"/>
</g>
<g transform="translate(249,326.8)">
<circle cx="0" cy="0.6" r="20.5" fill="rgba(0,0,0,0.36)" filter="url(#sh)"/>
<g clip-path="url(#cid)"><rect x="-24" y="-24" width="48" height="24" fill="#ef3150"/><rect x="-24" y="0" width="48" height="24" fill="#fbfbfb"/></g>
<circle r="19.7" fill="none" stroke="rgba(0,0,0,0.12)" stroke-width="0.6"/>
</g>
<g transform="translate(288.5,333.2)">
<circle cx="0" cy="0.6" r="19.5" fill="rgba(0,0,0,0.36)" filter="url(#sh)"/>
<g clip-path="url(#cjp)"><rect x="-22.8" y="-22.8" width="45.6" height="45.6" fill="#fbfbfb"/><circle cx="-1.9" cy="0" r="9.5" fill="#ef3150" /></g>
<circle r="18.7" fill="none" stroke="rgba(0,0,0,0.12)" stroke-width="0.6"/>
</g>
<g transform="translate(298,343.6)">
<circle cx="0" cy="0.6" r="19.5" fill="rgba(0,0,0,0.36)" filter="url(#sh)"/>
<g clip-path="url(#ckr)"><rect x="-22.8" y="-22.8" width="45.6" height="45.6" fill="#fbfbfb"/><g transform="rotate(33)"><path d="M-6.46,0 A6.46,6.46 0 0 1 6.46,0 Z" fill="#ef3150"/><path d="M-6.46,0 A6.46,6.46 0 0 0 6.46,0 Z" fill="#2a55a6"/><circle cx="-3.23" cy="0" r="3.23" fill="#ef3150" /><circle cx="3.23" cy="0" r="3.23" fill="#2a55a6" /></g><g transform="translate(-9.77,-6.59) rotate(-56)"><rect x="-2.66" y="-2.66" width="5.32" height="1.24" fill="#222"/><rect x="-2.66" y="-0.57" width="5.32" height="1.24" fill="#222"/><rect x="-2.66" y="1.52" width="5.32" height="1.24" fill="#222"/></g><g transform="translate(9.77,-6.59) rotate(56)"><rect x="-2.66" y="-2.66" width="5.32" height="1.24" fill="#222"/><rect x="-2.66" y="-0.57" width="5.32" height="1.24" fill="#222"/><rect x="-2.66" y="1.52" width="5.32" height="1.24" fill="#222"/></g><g transform="translate(-9.77,6.59) rotate(236)"><rect x="-2.66" y="-2.66" width="5.32" height="1.24" fill="#222"/><rect x="-2.66" y="-0.57" width="5.32" height="1.24" fill="#222"/><rect x="-2.66" y="1.52" width="5.32" height="1.24" fill="#222"/></g><g transform="translate(9.77,6.59) rotate(124)"><rect x="-2.66" y="-2.66" width="5.32" height="1.24" fill="#222"/><rect x="-2.66" y="-0.57" width="5.32" height="1.24" fill="#222"/><rect x="-2.66" y="1.52" width="5.32" height="1.24" fill="#222"/></g></g>
<circle r="18.7" fill="none" stroke="rgba(0,0,0,0.12)" stroke-width="0.6"/>
</g>
<g transform="translate(322.9,338.8)">
<circle cx="0" cy="0.6" r="20.1" fill="rgba(0,0,0,0.36)" filter="url(#sh)"/>
<g clip-path="url(#cmx)"><rect x="-23.52" y="-23.52" width="13.13" height="47.04" fill="#6aaa43"/><rect x="-10.39" y="-23.52" width="20.78" height="47.04" fill="#fbfbfb"/><rect x="10.39" y="-23.52" width="13.13" height="47.04" fill="#ef3150"/><path d="M-8.23,-1.96 Q-7.84,6.27 0,6.66 Q7.84,6.27 8.23,-1.96" stroke="#8aa07e" stroke-width="1.96" fill="none"/><path d="M-4.9,1.96 Q0,4.31 4.9,1.96" stroke="#6f8fa8" stroke-width="1.37" fill="none"/><ellipse cx="0.39" cy="-3.92" rx="5.88" ry="3.92" fill="#8a5a2e"/><ellipse cx="1.18" cy="-4.7" rx="2.94" ry="2.35" fill="#5a3518"/><ellipse cx="0" cy="0" rx="2.74" ry="1.37" fill="#5f8a4a"/></g>
<circle r="19.3" fill="none" stroke="rgba(0,0,0,0.12)" stroke-width="0.6"/>
</g>
<g transform="translate(482,316.2)">
<circle cx="0" cy="0.6" r="20.7" fill="rgba(0,0,0,0.36)" filter="url(#sh)"/>
<g clip-path="url(#ctw)"><rect x="-24.24" y="-24.24" width="48.48" height="48.48" fill="#ef3150"/><rect x="-24.24" y="-24.24" width="21.82" height="24.24" fill="#263f96"/><polygon points="-13.53,-14.95 -12.72,-12.74 -10.91,-14.24 -11.31,-11.92 -8.99,-12.32 -10.49,-10.51 -8.28,-9.7 -10.49,-8.88 -8.99,-7.07 -11.31,-7.47 -10.91,-5.15 -12.72,-6.65 -13.53,-4.44 -14.35,-6.65 -16.16,-5.15 -15.76,-7.47 -18.08,-7.07 -16.58,-8.88 -18.79,-9.7 -16.58,-10.51 -18.08,-12.32 -15.76,-11.92 -16.16,-14.24 -14.35,-12.74" fill="#fbfbfb"/></g>
<circle r="19.9" fill="none" stroke="rgba(0,0,0,0.12)" stroke-width="0.6"/>
</g>
<g transform="translate(506.8,362.5)">
<circle cx="0" cy="0.6" r="19.3" fill="rgba(0,0,0,0.36)" filter="url(#sh)"/>
<g clip-path="url(#ctr)"><rect x="-22.56" y="-22.56" width="45.12" height="45.12" fill="#ef3150"/><circle cx="-8.46" cy="0.38" r="9.4" fill="#fbfbfb" /><circle cx="-6.2" cy="0.38" r="7.52" fill="#ef3150" /><polygon points="-0.94,0.38 1.66,-0.47 1.66,-3.2 3.26,-0.99 5.86,-1.83 4.26,0.38 5.86,2.59 3.26,1.74 1.66,3.95 1.66,1.22" fill="#fbfbfb"/></g>
<circle r="18.5" fill="none" stroke="rgba(0,0,0,0.12)" stroke-width="0.6"/>
</g>
<g transform="translate(236.6,382.9)">
<circle cx="0" cy="0.6" r="19" fill="rgba(0,0,0,0.36)" filter="url(#sh)"/>
<g clip-path="url(#cin)"><rect x="-22.2" y="-22.2" width="44.4" height="16.28" fill="#f28b34"/><rect x="-22.2" y="-5.92" width="44.4" height="11.29" fill="#fbfbfb"/><rect x="-22.2" y="5.36" width="44.4" height="16.84" fill="#5ea743"/><circle cx="0" cy="0" r="4.07" fill="none" stroke="#2a5da8" stroke-width="1.11"/><circle cx="0" cy="0" r="1.85" fill="#4a77b8" /></g>
<circle r="18.2" fill="none" stroke="rgba(0,0,0,0.12)" stroke-width="0.6"/>
</g>
<g transform="translate(383.8,386.8)">
<circle cx="0" cy="0.6" r="19.3" fill="rgba(0,0,0,0.36)" filter="url(#sh)"/>
<g clip-path="url(#cph)"><rect x="-22.56" y="-22.56" width="45.12" height="22.56" fill="#2a55a6"/><rect x="-22.56" y="0" width="45.12" height="22.56" fill="#ef3150"/><polygon points="-22.56,-20.68 2.26,0 -22.56,20.68" fill="#fbfbfb"/><polygon points="-13.54,-4.14 -12.67,-2.1 -10.61,-2.92 -11.43,-0.87 -9.4,0 -11.43,0.87 -10.61,2.92 -12.67,2.1 -13.54,4.14 -14.41,2.1 -16.46,2.92 -15.64,0.87 -17.67,0 -15.64,-0.87 -16.46,-2.92 -14.41,-2.1" fill="#f4c430"/></g>
<circle r="18.5" fill="none" stroke="rgba(0,0,0,0.12)" stroke-width="0.6"/>
</g>
<g transform="translate(494.4,403.4)">
<circle cx="0" cy="0.6" r="18.5" fill="rgba(0,0,0,0.36)" filter="url(#sh)"/>
<g clip-path="url(#cth)"><rect x="-21.6" y="-21.6" width="43.2" height="10.8" fill="#ef3150"/><rect x="-21.6" y="-10.8" width="43.2" height="5.4" fill="#fbfbfb"/><rect x="-21.6" y="-5.4" width="43.2" height="11.52" fill="#2b4f97"/><rect x="-21.6" y="6.12" width="43.2" height="5.04" fill="#fbfbfb"/><rect x="-21.6" y="11.16" width="43.2" height="10.44" fill="#ef3150"/></g>
<circle r="17.7" fill="none" stroke="rgba(0,0,0,0.12)" stroke-width="0.6"/>
</g>
<g transform="translate(53.1,396.2)">
<circle cx="0" cy="0.6" r="18.8" fill="rgba(0,0,0,0.36)" filter="url(#sh)"/>
<g clip-path="url(#car)"><rect x="-21.96" y="-21.96" width="43.92" height="16.47" fill="#78acdc"/><rect x="-21.96" y="-5.49" width="43.92" height="11.53" fill="#fbfbfb"/><rect x="-21.96" y="6.04" width="43.92" height="15.92" fill="#78acdc"/><polygon points="0,-4.39 0.74,-2.76 2.2,-3.8 2.02,-2.02 3.8,-2.2 2.76,-0.74 4.39,0 2.76,0.74 3.8,2.2 2.02,2.02 2.2,3.8 0.74,2.76 0,4.39 -0.74,2.76 -2.2,3.8 -2.02,2.02 -3.8,2.2 -2.76,0.74 -4.39,0 -2.76,-0.74 -3.8,-2.2 -2.02,-2.02 -2.2,-3.8 -0.74,-2.76" fill="#f2b33a"/><circle cx="0" cy="0" r="2.75" fill="#e2a42c" /></g>
<circle r="18" fill="none" stroke="rgba(0,0,0,0.12)" stroke-width="0.6"/>
</g>
<text class="n" x="133" y="78.39" text-anchor="end">82</text>
<text class="l" x="133" y="89.49" text-anchor="end">Denmark</text>
<text class="n" x="252.6" y="81.29" text-anchor="start">84.2</text>
<text class="l" x="252.6" y="90.69" text-anchor="start">Iceland</text>
<text class="n" x="366" y="81.29" text-anchor="start">83.5</text>
<text class="l" x="366" y="90.69" text-anchor="start">Netherlands</text>
<text class="n" x="53.8" y="96.49" text-anchor="start">75</text>
<text class="l" x="53.8" y="107.19" text-anchor="start">Australia</text>
<text class="n" x="188" y="115.69" text-anchor="start">73.3</text>
<text class="l" x="188" y="125.99" text-anchor="start">Finland</text>
<text class="n" x="114.8" y="139.89" text-anchor="middle">69.8</text>
<text class="l" x="114.8" y="151.19" text-anchor="middle">Canada</text>
<text class="n" x="203.8" y="156.39" text-anchor="start">67.9</text>
<text class="l" x="203.8" y="165.99" text-anchor="start">Germany</text>
<text class="n" x="262" y="151.89" text-anchor="middle">68.3</text>
<text class="l" x="262" y="162.19" text-anchor="middle">Ireland</text>
<text class="n" x="87.5" y="183.89" text-anchor="end">64.5</text>
<text class="l" x="87.5" y="194.19" text-anchor="end">Belgium</text>
<text class="n" x="152" y="196.09" text-anchor="start">67</text>
<text class="l" x="152" y="207.19" text-anchor="start">Chile</text>
<text class="n" x="387.5" y="126.19" text-anchor="start">75.2</text>
<text class="l" x="387.5" y="137.19" text-anchor="start">Norway</text>
<text class="n" x="457" y="115.69" text-anchor="middle">72.9</text>
<text class="l" x="457" y="125.99" text-anchor="middle">Sweden</text>
<text class="n" x="531" y="125.69" text-anchor="middle">71.6</text>
<text class="l" x="531" y="136.69" text-anchor="middle">UK</text>
<text class="n" x="420.6" y="203.89" text-anchor="middle">70.7</text>
<text class="l" x="420.6" y="214.69" text-anchor="middle">Singapore</text>
<text class="n" x="482.5" y="204.39" text-anchor="start">70</text>
<text class="l" x="482.5" y="214.69" text-anchor="start">Switzerland</text>
<text class="n" x="551.3" y="204.39" text-anchor="start">61.4</text>
<text class="l" x="551.3" y="214.69" text-anchor="start">U.S.</text>
<text class="n" x="236.5" y="223.89" text-anchor="start">61.8</text>
<text class="l" x="236.5" y="234.79" text-anchor="start">Hong Kong</text>
<text class="n" x="150.7" y="232.29" text-anchor="end">58.4</text>
<text class="l" x="150.7" y="241.89" text-anchor="end">Colombia</text>
<text class="n" x="407.3" y="232.39" text-anchor="middle">58.1</text>
<text class="l" x="407.3" y="243.49" text-anchor="middle">Saudi Arabia</text>
<text class="n" x="441.3" y="228.19" text-anchor="start">58.6</text>
<text class="l" x="441.3" y="239.19" text-anchor="start">Spain</text>
<text class="n" x="286.3" y="251.89" text-anchor="end">59.6</text>
<text class="l" x="286.3" y="262.69" text-anchor="end">Malaysia</text>
<text class="n" x="493.6" y="260.19" text-anchor="end">59.6</text>
<text class="l" x="493.6" y="270.19" text-anchor="end">UAE</text>
<text class="n" x="537" y="280.19" text-anchor="start">60.7</text>
<text class="l" x="537" y="291.19" text-anchor="start">Uruguay</text>
<text class="n" x="372" y="256.89" text-anchor="middle">55</text>
<text class="l" x="372" y="267.69" text-anchor="middle">Peru</text>
<text class="n" x="91" y="258.29" text-anchor="start">54.7</text>
<text class="l" x="91" y="268.79" text-anchor="start">Brazil</text>
<text class="n" x="82.8" y="273.19" text-anchor="end">53</text>
<text class="l" x="82.8" y="283.19" text-anchor="end">Austria</text>
<text class="n" x="186" y="282.89" text-anchor="start">60.5</text>
<text class="l" x="186" y="292.19" text-anchor="start">France</text>
<text class="n" x="254.5" y="282.39" text-anchor="end">53.4</text>
<text class="l" x="254.5" y="292.19" text-anchor="end">Italy</text>
<text class="n" x="153.1" y="317.09" text-anchor="start">55.1</text>
<text class="l" x="153.1" y="326.59" text-anchor="start">China</text>
<text class="n" x="228" y="306.89" text-anchor="end">50.4</text>
<text class="l" x="228" y="317.19" text-anchor="end">Indonesia</text>
<text class="n" x="298.8" y="303.89" text-anchor="start">49.8</text>
<text class="l" x="298.8" y="314.69" text-anchor="start">Japan</text>
<text class="n" x="346.7" y="337.69" text-anchor="start">49</text>
<text class="l" x="346.7" y="348.89" text-anchor="start">Mexico</text>
<text class="n" x="396.3" y="320.69" text-anchor="middle">55.2</text>
<text class="l" x="396.3" y="330.99" text-anchor="middle">Poland</text>
<text class="n" x="433.2" y="333.69" text-anchor="middle">53.6</text>
<text class="l" x="433.2" y="344.79" text-anchor="middle">South Africa</text>
<text class="n" x="507.4" y="314.49" text-anchor="start">51.8</text>
<text class="l" x="507.4" y="324.19" text-anchor="start">Taiwan</text>
<text class="n" x="529.5" y="359.89" text-anchor="start">45.8</text>
<text class="l" x="529.5" y="370.19" text-anchor="start">Turkey</text>
<text class="n" x="293.7" y="376.09" text-anchor="start">48.3</text>
<text class="l" x="293.7" y="385.79" text-anchor="start">Korea</text>
<text class="n" x="260" y="381.89" text-anchor="start">43.3</text>
<text class="l" x="260" y="392.19" text-anchor="start">India</text>
<text class="n" x="407" y="385.69" text-anchor="start">42.7</text>
<text class="l" x="407" y="395.99" text-anchor="start">Philippines</text>
<text class="n" x="518" y="398.19" text-anchor="start">40.6</text>
<text class="l" x="518" y="408.49" text-anchor="start">Thailand</text>
<text class="n" x="75" y="394.89" text-anchor="start">41.5</text>
<text class="l" x="75" y="405.99" text-anchor="start">Argentina</text>
<text class="n" x="320" y="189.49" text-anchor="end">67.4</text>
<text class="l" x="320" y="199.49" text-anchor="end">New</text>
<text class="l" x="320" y="208.99" text-anchor="end">Zealand</text>
<text class="t" x="91" y="342.3" textLength="103.3" lengthAdjust="spacingAndGlyphs">Some countries like <tspan font-weight="bold">India,</tspan></text>
<text class="t" x="91" y="352.1" textLength="134" lengthAdjust="spacingAndGlyphs"><tspan font-weight="bold">Indonesia, and Peru</tspan> had slightly</text>
<text class="t" x="91" y="362.5" textLength="126.5" lengthAdjust="spacingAndGlyphs">lower scores compared to 2020.</text>
<text class="t" x="410" y="432.6" textLength="152" lengthAdjust="spacingAndGlyphs"><tspan font-weight="bold">Thailand</tspan> has the lowest overall score,</text>
<text class="t" x="410" y="442.5" textLength="120.9" lengthAdjust="spacingAndGlyphs">improving +1.2 over two years.</text>
<path d="M458,423.5 C458,416 463,412 473.5,411.8" stroke="#222" stroke-width="0.8" fill="none" marker-end="url(#ah)"/>
<g>
<circle cx="32.8" cy="471.6" r="7.5" fill="#fff" stroke="#1e1e1e" stroke-width="1.6"/><circle cx="49.5" cy="471.6" r="7.5" fill="#fff" stroke="#1e1e1e" stroke-width="1.6"/>
<path d="M26.6,466 C28.6,461.4 32.3,457 36.6,456.4 C38.8,456.1 40.3,457 41.2,458 C42.2,457 43.8,456.1 46,456.4 C50.2,457 53.8,461.4 55.8,466 C53.8,465.2 51.8,464.6 49.5,464.6 C46,464.6 43,465.2 41.2,466.4 C39.4,465.2 36.4,464.6 32.8,464.6 C30.6,464.6 28.6,465.2 26.6,466 Z" fill="#1e1e1e"/>
<path d="M29.8,473 L31.6,474.3 L33.6,474.5 C34.3,471.4 37,468.3 41,468 C42.8,467.8 44.2,468.1 45,468.4 L45.8,467.4 L46.7,468.7 C49.1,469.2 51.1,471.3 51.9,473.5 L51.4,475.4 C50.9,477.1 49.6,478.6 48.1,479.3 L35.2,479.3 C34.2,478.5 33.7,476.8 33.6,475.3 L31.5,474.9 Z" fill="#1e1e1e"/>
</g>
<text x="60.7" y="467.3" textLength="42.6" lengthAdjust="spacingAndGlyphs" style="font-family:'DejaVu Sans',sans-serif;font-weight:bold;font-size:8.6px;letter-spacing:1.3px;fill:#86bd5a">VISUAL</text>
<text x="60.7" y="476.8" textLength="70" lengthAdjust="spacingAndGlyphs" style="font-family:'DejaVu Sans',sans-serif;font-weight:bold;font-size:8.6px;letter-spacing:1.1px;fill:#1e1e1e">CAPITALIST</text>
<text x="185.7" y="466.5" textLength="107.6" lengthAdjust="spacingAndGlyphs" style="font-family:'DejaVu Sans',sans-serif;font-size:7.2px;fill:#666">Source: Mercer CFA Institute</text>
<text x="185.7" y="477.3" textLength="79.3" lengthAdjust="spacingAndGlyphs" style="font-family:'DejaVu Sans',sans-serif;font-size:7.2px;fill:#666">Global Pension Index</text>
<circle cx="348" cy="469.7" r="7.8" fill="none" stroke="#7fb3d5" stroke-width="0.9"/>
<circle cx="367" cy="469.7" r="7.8" fill="none" stroke="#d98a8a" stroke-width="0.9"/>
<circle cx="438.6" cy="469.7" r="7.8" fill="none" stroke="#7fb3d5" stroke-width="0.9"/>
<circle cx="457.4" cy="469.7" r="7.8" fill="none" stroke="#d98a8a" stroke-width="0.9"/>
<circle cx="518" cy="469.7" r="7.8" fill="none" stroke="#a9c48a" stroke-width="0.9"/>
<text x="348" y="473" text-anchor="middle" style="font-family:'DejaVu Sans',sans-serif;font-weight:bold;font-size:10px;fill:#1e1e1e">f</text>
<polygon points="364.5,466 370.5,469.7 364.5,473.4" fill="#1e1e1e"/>
<path transform="translate(434.2,465.3) scale(0.37)" d="M23.643 4.937c-.835.37-1.732.62-2.675.733.962-.576 1.7-1.49 2.048-2.578-.9.534-1.897.922-2.958 1.13-.85-.904-2.06-1.47-3.4-1.47-2.572 0-4.658 2.086-4.658 4.66 0 .364.042.718.12 1.06-3.873-.195-7.304-2.05-9.602-4.868-.4.69-.63 1.49-.63 2.342 0 1.616.823 3.043 2.072 3.878-.764-.025-1.482-.234-2.11-.583v.06c0 2.257 1.605 4.14 3.737 4.568-.392.106-.803.162-1.227.162-.3 0-.593-.028-.877-.082.593 1.85 2.313 3.198 4.352 3.234-1.595 1.25-3.604 1.995-5.786 1.995-.376 0-.747-.022-1.112-.065 2.062 1.323 4.51 2.093 7.14 2.093 8.57 0 13.255-7.098 13.255-13.254 0-.2-.005-.402-.014-.602.91-.658 1.7-1.477 2.323-2.41z" fill="#1e1e1e"/>
<rect x="453.6" y="465.9" width="7.6" height="7.6" rx="1.8" fill="#1e1e1e"/><circle cx="457.4" cy="469.7" r="1.9" fill="none" stroke="#fff" stroke-width="0.9"/>
<path d="M515.5,465.5 L515.5,474 L517.5,472 L519,475 L520.3,474.4 L518.8,471.5 L521.5,471.3 Z" fill="#1e1e1e"/>
<text x="375.7" y="472.5" textLength="48.1" lengthAdjust="spacingAndGlyphs" style="font-family:'DejaVu Sans',sans-serif;font-size:7.2px;fill:#222">/visualcapitalist</text>
<text x="468.7" y="472.5" textLength="33.6" lengthAdjust="spacingAndGlyphs" style="font-family:'DejaVu Sans',sans-serif;font-size:7.2px;fill:#222">@visualcap</text>
<text x="528.9" y="472.5" textLength="57.2" lengthAdjust="spacingAndGlyphs" style="font-family:'DejaVu Sans',sans-serif;font-size:7.2px;fill:#222">visualcapitalist.com</text>
<text x="24" y="508.9" textLength="70.7" lengthAdjust="spacingAndGlyphs" style="font-family:'DejaVu Sans',sans-serif;font-weight:bold;font-size:7.4px;letter-spacing:0.9px;fill:#86bd5a">COLLABORATORS</text>
<text x="101.3" y="508.9" textLength="61.4" lengthAdjust="spacingAndGlyphs" style="font-family:'DejaVu Sans Condensed',sans-serif;font-weight:bold;font-size:7px;fill:#8a8a8a">RESEARCH + WRITING</text>
<text x="166.7" y="508.9" textLength="82.6" lengthAdjust="spacingAndGlyphs" style="font-family:'DejaVu Sans',sans-serif;font-size:7.2px;fill:#8a8a8a">Carmen Ang, Omri Wallach</text>
<rect x="255.5" y="503" width="0.8" height="6" fill="#8a8a8a"/>
<text x="262.7" y="508.9" textLength="72.3" lengthAdjust="spacingAndGlyphs" style="font-family:'DejaVu Sans Condensed',sans-serif;font-weight:bold;font-size:7px;fill:#8a8a8a">ART DIRECTION + DESIGN</text>
<text x="338.3" y="508.9" textLength="39.2" lengthAdjust="spacingAndGlyphs" style="font-family:'DejaVu Sans',sans-serif;font-size:7.2px;fill:#8a8a8a">Sabrina Lam</text>
<line x1="382.5" y1="506" x2="597.5" y2="506" stroke="#cfcfcf" stroke-width="1"/>
</svg></body></html>
